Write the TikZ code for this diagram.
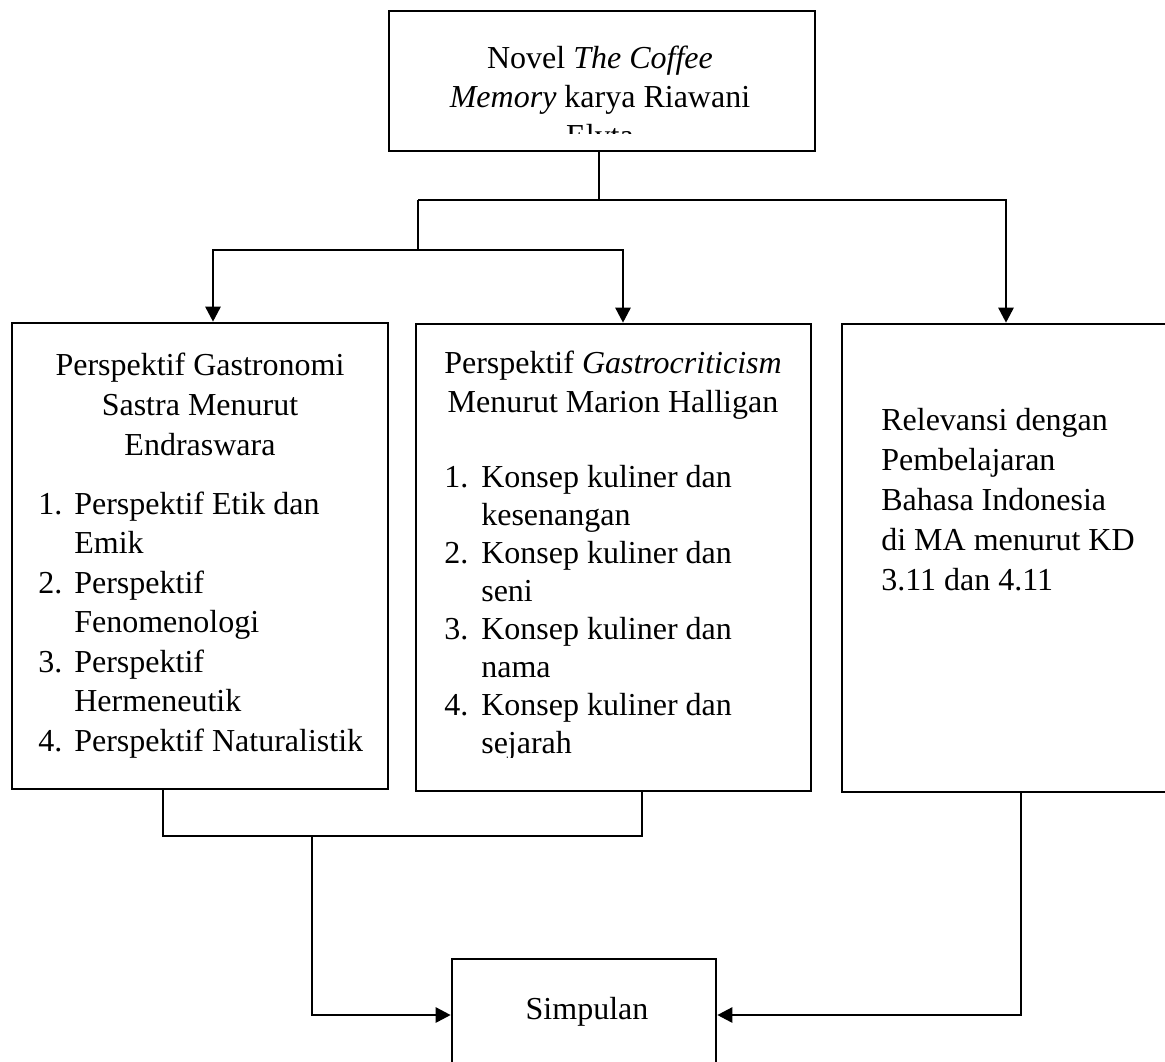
\documentclass[tikz,border=0pt]{standalone}
\usepackage{fontspec}
\setmainfont{Liberation Serif}
\usetikzlibrary{arrows.meta}
\begin{document}
\begin{tikzpicture}[x=0.5pt, y=-0.5pt, line width=1.3pt, line join=miter,
  box/.style={draw, rectangle, inner sep=0pt},
  txt/.style={inner sep=0pt, anchor=base, font=\fontsize{16}{#1}\selectfont},
  txt/.default=20,
  arr/.style={-{Triangle[length=7.5pt,width=7.5pt]}}]
\def\u{0.5pt}
\clip (0,0) rectangle (1165,1061);
\node[box, minimum width=426*\u, minimum height=140*\u] (novel) at (602,81) {};
\node[box, minimum width=376*\u, minimum height=466*\u] (gastro) at (200,556) {};
\node[box, minimum width=395*\u, minimum height=467*\u] (crit) at (613.5,557.5) {};
\node[box, minimum width=328*\u, minimum height=468*\u] (relevansi) at (1006,558) {};
\node[box, minimum width=264*\u, minimum height=112*\u] (simpulan) at (584,1015) {};
\begin{scope}
\clip (novel.north west) rectangle ([yshift=19*\u]novel.south east);
\node[txt=19.5] (novelText) at (600,68) {\begin{tabular}[t]{@{}c@{}}Novel \textit{The Coffee}\\ \textit{Memory} karya Riawani\\ Elyta\end{tabular}};
\end{scope}
\begin{scope}
\clip (gastro.north west) rectangle ([yshift=33*\u]gastro.south east);
\node[txt] (gastroHead) at (200,375) {\begin{tabular}[t]{@{}c@{}}Perspektif Gastronomi\\ Sastra Menurut\\ Endraswara\end{tabular}};
\node[txt=19.75, anchor=base west] (gastroList) at (37,514) {\begin{tabular}[t]{@{}p{18pt}@{}l@{}}
1. & Perspektif Etik dan\\ & Emik\\ 2. & Perspektif\\ & Fenomenologi\\
3. & Perspektif\\ & Hermeneutik\\ 4. & Perspektif Naturalistik\end{tabular}};
\end{scope}
\begin{scope}
\clip (crit.north west) rectangle ([yshift=35*\u]crit.south east);
\node[txt=19.5] (critHead) at (613,373) {\begin{tabular}[t]{@{}c@{}}Perspektif \textit{Gastrocriticism}\\ Menurut Marion Halligan\end{tabular}};
\node[txt=19, anchor=base west] (critList) at (443,487) {\begin{tabular}[t]{@{}p{18.5pt}@{}l@{}}
1. & Konsep kuliner dan\\ & kesenangan\\ 2. & Konsep kuliner dan\\ & seni\\
3. & Konsep kuliner dan\\ & nama\\ 4. & Konsep kuliner dan\\ & sejarah\end{tabular}};
\end{scope}
\node[txt, anchor=base west] (relevansiText) at (880,430) {\begin{tabular}[t]{@{}l@{}}Relevansi dengan\\ Pembelajaran\\ Bahasa Indonesia\\ di MA menurut KD\\ 3.11 dan 4.11\end{tabular}};
\node[txt] (simpulanText) at (587,1019) {Simpulan};
\coordinate (split) at (599,200);
\coordinate (fork) at (418,200);
\coordinate (forkdown) at (418,250);
\coordinate (merge) at (312,836);
\draw ([xshift=-3*\u]novel.south) -- (split);
\draw[arr] (fork) -| (relevansi.north);
\draw (fork) -- (forkdown);
\draw[arr] (forkdown) -| ([xshift=13*\u]gastro.north);
\draw[arr] (forkdown) -| ([xshift=9.5*\u]crit.north);
\draw ([xshift=-37*\u]gastro.south) |- (merge) -| ([xshift=28.5*\u]crit.south);
\draw[arr] (merge) |- (simpulan.west);
\draw[arr] ([xshift=15*\u]relevansi.south) |- (simpulan.east);
\end{tikzpicture}
\end{document}
